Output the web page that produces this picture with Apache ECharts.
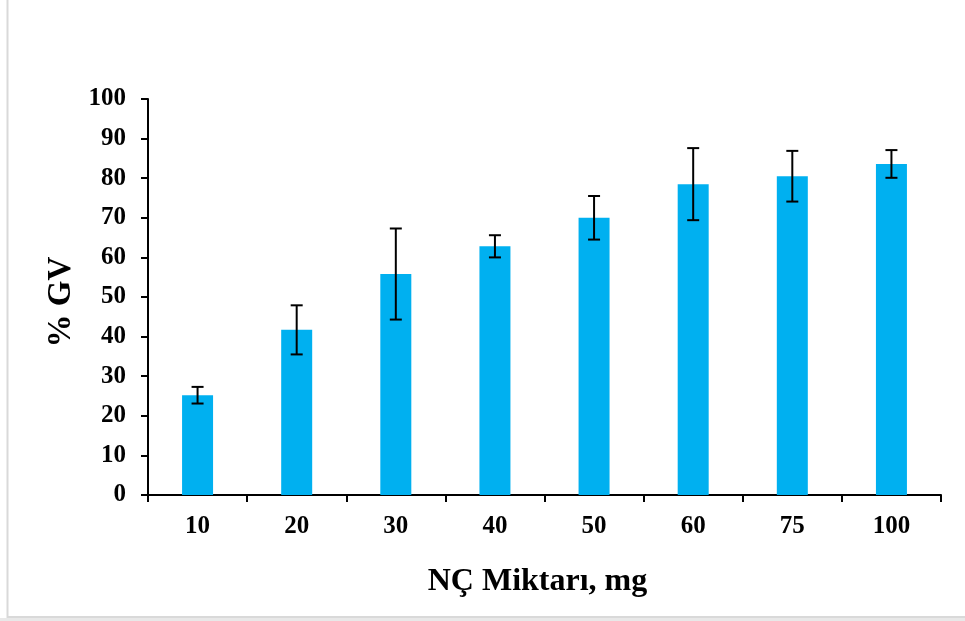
<!DOCTYPE html>
<html><head><meta charset="utf-8">
<script src="https://cdn.jsdelivr.net/npm/echarts@6/dist/echarts.min.js"></script>
<style>html,body{margin:0;padding:0;background:#fff}#c{width:965px;height:621px}</style>
</head><body><div id="c"></div>
<script>
const categories = ['10','20','30','40','50','60','75','100'];
const values = [25.2, 41.7, 55.8, 62.8, 70.0, 78.5, 80.5, 83.6];
const errors = [2.1, 6.2, 11.5, 2.8, 5.5, 9.1, 6.4, 3.5];
const yTicks = [0,10,20,30,40,50,60,70,80,90,100];

const chart = echarts.init(document.getElementById('c'), null, {renderer:'canvas'});
const font = 'Liberation Serif, Times New Roman, serif';
const errData = values.map((v,i)=>[i, v - errors[i], v + errors[i]]);
chart.setOption({
  animation:false,
  backgroundColor:'#fff',
  graphic:[{type:'rect', shape:{x:7.5,y:-2,width:1000,height:619}, style:{fill:'none',stroke:'#d9d9d9',lineWidth:2}, silent:true},
           {type:'rect', shape:{x:0,y:618,width:965,height:3}, style:{fill:'#e8e8e8'}, silent:true}],
  grid:{left:148,right:24,top:99,bottom:126},
  xAxis:{type:'category', data:categories,
    axisLine:{lineStyle:{color:'#000',width:2}},
    axisTick:{show:true, length:7, lineStyle:{color:'#000',width:2}, alignWithLabel:false},
    axisLabel:{color:'#000', fontFamily:font, fontWeight:'bold', fontSize:25, margin:19},
    name:'NÇ Miktarı, mg', nameLocation:'middle', nameGap:71,
    nameTextStyle:{color:'#000', fontFamily:font, fontWeight:'bold', fontSize:32, padding:[0,14,0,0]}
  },
  yAxis:{type:'value', min:yTicks[0], max:yTicks[yTicks.length-1], interval:10,
    axisLine:{show:true, lineStyle:{color:'#000',width:2}},
    axisTick:{show:true, length:7, lineStyle:{color:'#000',width:2}},
    splitLine:{show:false},
    axisLabel:{color:'#000', fontFamily:font, fontWeight:'bold', fontSize:25, margin:22},
    name:'% GV', nameLocation:'middle', nameGap:62, nameRotate:90,
    nameTextStyle:{color:'#000', fontFamily:font, fontWeight:'bold', fontSize:33, padding:[0,10,0,0]}
  },
  series:[
    {type:'bar', data:values, barWidth:31, itemStyle:{color:'#00B0F0'}},
    {type:'custom', data:errData, z:10,
      renderItem:function(params, api){
        const x = api.value(0);
        const lo = api.coord([x, api.value(1)]);
        const hi = api.coord([x, api.value(2)]);
        const hw = 6;
        const st = {stroke:'#000', lineWidth:2, fill:'none'};
        return {type:'group', children:[
          {type:'line', shape:{x1:lo[0],y1:lo[1],x2:hi[0],y2:hi[1]}, style:st},
          {type:'line', shape:{x1:lo[0]-hw,y1:lo[1],x2:lo[0]+hw,y2:lo[1]}, style:st},
          {type:'line', shape:{x1:hi[0]-hw,y1:hi[1],x2:hi[0]+hw,y2:hi[1]}, style:st}
        ]};
      }
    }
  ]
});
</script></body></html>
